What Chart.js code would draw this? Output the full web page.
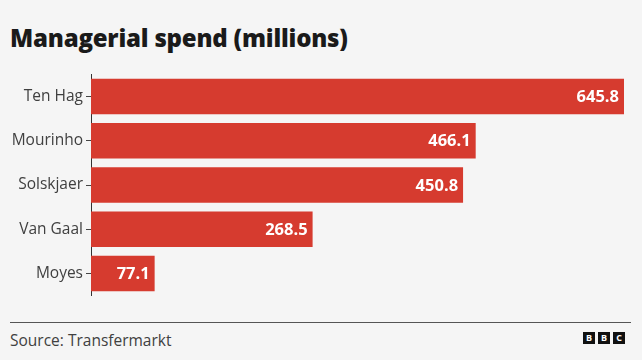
<!DOCTYPE html>
<html><head><meta charset="utf-8">
<script src="https://cdn.jsdelivr.net/npm/chart.js@4"></script>
<style>
html,body{margin:0;padding:0;background:#f5f5f5;width:642px;height:360px;overflow:hidden;font-family:"Open Sans",sans-serif;}
#title{position:absolute;left:10px;top:21px;font-size:24px;font-weight:800;color:#1a1a1a;letter-spacing:-0.2px;}
#wrap{position:absolute;left:0;top:62px;width:642px;height:246px;}
#rule{position:absolute;left:10px;top:322px;width:621px;height:1px;background:#555;}
#source{position:absolute;left:10px;top:329px;font-size:15.5px;color:#404040;}
#logo{position:absolute;left:583px;top:332px;display:flex;gap:3px;}
#logo span{display:block;width:12px;height:12px;background:#111;color:#fff;font:bold 9px "Open Sans",sans-serif;text-align:center;line-height:12px;}
</style></head>
<body>
<div id="title">Managerial spend (millions)</div>
<div id="wrap"><canvas id="c"></canvas></div>
<div id="rule"></div>
<div id="source">Source: Transfermarkt</div>
<div id="logo"><span>B</span><span>B</span><span>C</span></div>
<script>
const managers = ["Ten Hag", "Mourinho", "Solskjaer", "Van Gaal", "Moyes"];
const spend = [645.8, 466.1, 450.8, 268.5, 77.1];
const barColor = "#d63b2f";

const valueLabels = {
  id: "valueLabels",
  afterDatasetsDraw(chart) {
    const ctx = chart.ctx;
    const meta = chart.getDatasetMeta(0);
    ctx.save();
    ctx.fillStyle = "#ffffff";
    ctx.font = "bold 16.5px 'Open Sans', sans-serif";
    ctx.textAlign = "right";
    ctx.textBaseline = "middle";
    meta.data.forEach((bar, i) => {
      ctx.fillText(spend[i].toFixed(1), bar.x - 5, bar.y + 1);
    });
    ctx.restore();
  }
};

new Chart(document.getElementById("c"), {
  type: "bar",
  data: {
    labels: managers,
    datasets: [{
      data: spend,
      backgroundColor: barColor,
      borderWidth: 0,
      barPercentage: 0.8,
      categoryPercentage: 1.0
    }]
  },
  options: {
    indexAxis: "y",
    responsive: true,
    maintainAspectRatio: false,
    animation: false,
    layout: { padding: { top: 10, bottom: 10, left: 0, right: 18 } },
    plugins: { legend: { display: false }, tooltip: { enabled: false } },
    scales: {
      x: {
        display: false,
        min: 0,
        max: 645.8
      },
      y: {
        afterFit(scale) { scale.width = 91; },
        grid: { display: true, offset: false, drawOnChartArea: false, drawTicks: true, tickLength: 5, color: "#444", lineWidth: 1 },
        border: { display: true, color: "#333", width: 1 },
        ticks: { color: "#404040", font: { size: 15.5, family: "'Open Sans', sans-serif" }, padding: 3 }
      }
    }
  },
  plugins: [valueLabels]
});
</script>
</body></html>
